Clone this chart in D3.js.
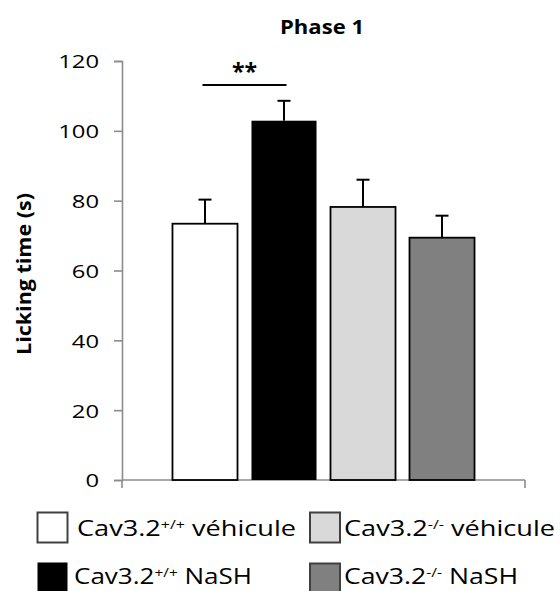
<!DOCTYPE html>
<html>
<head>
<meta charset="utf-8">
<script src="https://cdn.jsdelivr.net/npm/d3@7"></script>
<style>
  html, body { margin: 0; padding: 0; background: #fff; }
  svg { display: block; }
  text { font-family: "Open Sans", "Noto Sans", sans-serif; fill: #000; }
</style>
</head>
<body>
<svg id="chart" width="560" height="591"></svg>
<script>
// ---- data ----
const categories = ["Cav3.2+/+ véhicule", "Cav3.2+/+ NaSH", "Cav3.2-/- véhicule", "Cav3.2-/- NaSH"];
const genotypes = ["+/+", "+/+", "-/-", "-/-"];
const treatments = ["véhicule", "NaSH", "véhicule", "NaSH"];
const means = [73.4, 102.9, 78.2, 69.4];
const sems = [6.9, 5.7, 7.8, 6.3];
const yTicks = [0, 20, 40, 60, 80, 100, 120];
const title = "Phase 1";
const yLabel = "Licking time (s)";
const significance = "**";
const sigPair = [0, 1];

// ---- styles ----
const fills = ["#ffffff", "#000000", "#d9d9d9", "#808080"];
const strokes = ["#000000", "none", "#000000", "#000000"];
const legendStrokes = ["#404040", "none", "#404040", "#404040"];

const svg = d3.select("#chart");
const axisColor = "#8c8c8c";

const x = d3.scaleBand()
  .domain(categories)
  .range([122, 525])
  .paddingInner(0.177)
  .paddingOuter(0.639);

const y = d3.scaleLinear().domain([0, 120]).range([480, 61]);

// title
svg.append("text")
  .attr("x", 322).attr("y", 34)
  .attr("text-anchor", "middle")
  .attr("font-weight", "bold")
  .attr("font-size", 20)
  .attr("textLength", 84).attr("lengthAdjust", "spacingAndGlyphs")
  .text(title);

// y axis
const yAxis = d3.axisLeft(y).tickValues(yTicks).tickSize(8).tickPadding(15);
const gy = svg.append("g").attr("transform", "translate(122,0)").call(yAxis);
gy.select(".domain").attr("stroke", axisColor).attr("stroke-width", 1.6);
gy.selectAll(".tick line").attr("stroke", axisColor).attr("stroke-width", 1.6);
gy.selectAll(".tick text")
  .attr("font-family", "'Open Sans', sans-serif")
  .attr("font-size", 19)
  .attr("fill", "#000")
  .attr("dy", "0.36em")
  .attr("textLength", d => String(d).length * 13.6)
  .attr("lengthAdjust", "spacingAndGlyphs");

// x axis
const xAxisLine = svg.append("g");
xAxisLine.append("line")
  .attr("x1", x.range()[0]).attr("x2", x.range()[1])
  .attr("y1", y(0)).attr("y2", y(0))
  .attr("stroke", axisColor).attr("stroke-width", 1.6);
xAxisLine.selectAll("line.endtick")
  .data(x.range())
  .join("line").attr("class", "endtick")
  .attr("x1", d => d).attr("x2", d => d)
  .attr("y1", y(0)).attr("y2", y(0) + 8)
  .attr("stroke", axisColor).attr("stroke-width", 1.6);

// y label
svg.append("text")
  .attr("transform", "translate(31,274) rotate(-90)")
  .attr("text-anchor", "middle")
  .attr("font-weight", "bold")
  .attr("font-size", 20)
  .attr("textLength", 162).attr("lengthAdjust", "spacingAndGlyphs")
  .text(yLabel);

// error bars
const eb = svg.append("g");
categories.forEach((c, i) => {
  const cx = x(c) + x.bandwidth() / 2;
  eb.append("line")
    .attr("x1", cx).attr("x2", cx)
    .attr("y1", y(means[i])).attr("y2", y(means[i] + sems[i]))
    .attr("stroke", "#000").attr("stroke-width", 2);
  eb.append("line")
    .attr("x1", cx - 6.5).attr("x2", cx + 6.5)
    .attr("y1", y(means[i] + sems[i])).attr("y2", y(means[i] + sems[i]))
    .attr("stroke", "#000").attr("stroke-width", 2);
});

// bars
svg.append("g").selectAll("rect")
  .data(categories)
  .join("rect")
  .attr("x", d => x(d))
  .attr("y", (d, i) => y(means[i]))
  .attr("width", x.bandwidth())
  .attr("height", (d, i) => y(0) - y(means[i]))
  .attr("fill", (d, i) => fills[i])
  .attr("stroke", (d, i) => strokes[i])
  .attr("stroke-width", 1.8);

// significance
const sx1 = x(categories[sigPair[0]]) + x.bandwidth() / 2 - 2.5;
const sx2 = x(categories[sigPair[1]]) + x.bandwidth() / 2 + 2.5;
svg.append("line")
  .attr("x1", sx1).attr("x2", sx2)
  .attr("y1", 85).attr("y2", 85)
  .attr("stroke", "#000").attr("stroke-width", 2);
svg.append("text")
  .attr("x", (sx1 + sx2) / 2).attr("y", 80)
  .attr("text-anchor", "middle")
  .attr("font-weight", "bold")
  .attr("font-size", 23)
  .text(significance);

// legend
const legendPos = [
  { bx: 37.5, by: 512.5, tx: 77, ty: 536, w: 219 },
  { bx: 37.5, by: 562.5, tx: 74, ty: 584, w: 178 },
  { bx: 310, by: 512.5, tx: 344, ty: 536, w: 211 },
  { bx: 310, by: 563.5, tx: 344, ty: 584, w: 174 }
];
const lg = svg.append("g");
categories.forEach((c, i) => {
  const p = legendPos[i];
  lg.append("rect")
    .attr("x", p.bx).attr("y", p.by)
    .attr("width", 30).attr("height", 30)
    .attr("fill", fills[i])
    .attr("stroke", legendStrokes[i])
    .attr("stroke-width", 2);
  const t = lg.append("text")
    .attr("x", p.tx).attr("y", p.ty)
    .attr("font-size", 22)
    .attr("textLength", p.w).attr("lengthAdjust", "spacingAndGlyphs");
  t.append("tspan").text("Cav3.2");
  t.append("tspan").attr("dy", -7).attr("font-size", 13).text(genotypes[i]);
  t.append("tspan").attr("dy", 7).text(" " + treatments[i]);
});
</script>
</body>
</html>
